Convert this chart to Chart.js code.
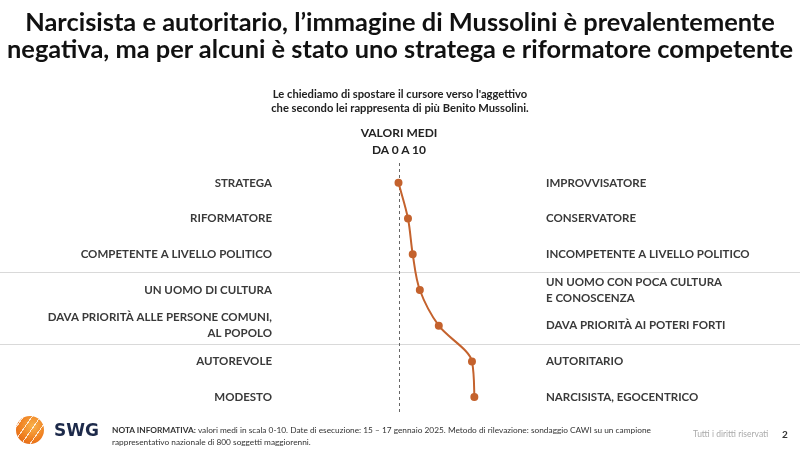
<!DOCTYPE html>
<html lang="it">
<head>
    <meta charset="UTF-8">
    <title>Immagine di Mussolini</title>
    <script src="https://cdn.jsdelivr.net/npm/chart.js@4"></script>
    <style>
        body {
            margin: 0;
            width: 800px;
            height: 452px;
            position: relative;
            background: #fff;
            font-family: Lato, Arial, sans-serif;
            color: #1a1a1a;
            overflow: hidden;
        }
        #wrap {
            position: absolute;
            left: 0; top: 0;
            width: 800px; height: 452px;
        }
        .title {
            position: absolute;
            left: 0; top: 8px; width: 800px;
            text-align: center;
            font-weight: 700;
            font-size: 25.4px;
            line-height: 27px;
            color: #111;
        }
        .question {
            position: absolute;
            left: 0; top: 87px; width: 800px;
            text-align: center;
            font-weight: 700;
            font-size: 11.2px;
            line-height: 14px;
            color: #222;
        }
        .valori {
            position: absolute;
            left: 299px; top: 124px; width: 200px;
            text-align: center;
            font-weight: 700;
            font-size: 12px;
            line-height: 17px;
            color: #222;
        }
        .logo {
            position: absolute;
            left: 16px; top: 416px;
            width: 28px; height: 28px;
            border-radius: 50%;
            background:
                repeating-linear-gradient(125deg, transparent 0 6px, rgba(255,255,255,0.8) 6px 7px),
                radial-gradient(circle at 60% 35%, #f8b14a, #ee7a1c 60%, #d9601a);
        }
        .swg {
            position: absolute;
            left: 54px; top: 420px;
            font-family: "DejaVu Sans", Arial, sans-serif;
            font-weight: 700;
            font-size: 17px;
            color: #1d2a4a;
        }
        .note {
            position: absolute;
            left: 112px; top: 424px;
            font-size: 8.3px;
            line-height: 12px;
            color: #333;
        }
        .rights {
            position: absolute;
            left: 693px; top: 429px;
            font-size: 8.5px;
            color: #aaa;
        }
        .page {
            position: absolute;
            left: 782px; top: 428px;
            font-size: 10px;
            font-weight: 700;
            color: #333;
        }
    </style>
</head>
<body>

<div id="wrap"><canvas id="chart" width="800" height="452"></canvas></div>

<div class="title">Narcisista e autoritario, l’immagine di Mussolini è prevalentemente<br>negativa, ma per alcuni è stato uno stratega e riformatore competente</div>
<div class="question">Le chiediamo di spostare il cursore verso l'aggettivo<br>che secondo lei rappresenta di più Benito Mussolini.</div>
<div class="valori">VALORI MEDI<br>DA 0 A 10</div>

<div class="logo"></div>
<div class="swg">SWG</div>
<div class="note"><b>NOTA INFORMATIVA:</b> valori medi in scala 0-10. Date di esecuzione: 15 – 17 gennaio 2025. Metodo di rilevazione: sondaggio CAWI su un campione<br>rappresentativo nazionale di 800 soggetti maggiorenni.</div>
<div class="rights">Tutti i diritti riservati</div>
<div class="page">2</div>

<script>
    // aggettivi a sinistra (0) e a destra (10)
    const leftLabels = [
        'STRATEGA',
        'RIFORMATORE',
        'COMPETENTE A LIVELLO POLITICO',
        'UN UOMO DI CULTURA',
        ['DAVA PRIORITÀ ALLE PERSONE COMUNI,', 'AL POPOLO'],
        'AUTOREVOLE',
        'MODESTO'
    ];
    const rightLabels = [
        'IMPROVVISATORE',
        'CONSERVATORE',
        'INCOMPETENTE A LIVELLO POLITICO',
        ['UN UOMO CON POCA CULTURA', 'E CONOSCENZA'],
        'DAVA PRIORITÀ AI POTERI FORTI',
        'AUTORITARIO',
        'NARCISISTA, EGOCENTRICO'
    ];
    // valori medi 0-10
    const mediValues = [5.0, 5.4, 5.6, 5.9, 6.7, 8.1, 8.2];
    const midValue = 5;
    // separatori tra i gruppi (dopo la 3a e la 5a riga)
    const separators = [2.5, 4.5];

    const lineColor = '#c4622d';
    const labelFont = { family: 'Lato', size: 11.5, weight: '700', lineHeight: 1.4 };

    const guides = {
        id: 'guides',
        beforeDatasetsDraw(chart) {
            const { ctx, chartArea, scales } = chart;
            ctx.save();
            // linee grigie orizzontali
            ctx.strokeStyle = '#d9d9d9';
            ctx.lineWidth = 1;
            separators.forEach(v => {
                const y = Math.round(scales.y.getPixelForValue(v)) + 0.5;
                ctx.beginPath();
                ctx.moveTo(0, y);
                ctx.lineTo(chart.width, y);
                ctx.stroke();
            });
            // linea tratteggiata al valore 5
            const x = Math.round(scales.x.getPixelForValue(midValue)) + 0.5;
            ctx.strokeStyle = '#666';
            ctx.setLineDash([3, 3]);
            ctx.beginPath();
            ctx.moveTo(x, chartArea.top - 2);
            ctx.lineTo(x, chartArea.bottom);
            ctx.stroke();
            ctx.restore();
        }
    };

    new Chart(document.getElementById('chart'), {
        type: 'line',
        data: {
            labels: leftLabels,
            datasets: [{
                data: mediValues,
                borderColor: lineColor,
                backgroundColor: lineColor,
                borderWidth: 2,
                pointRadius: 3,
                pointHoverRadius: 3,
                cubicInterpolationMode: 'monotone',
                clip: false
            }]
        },
        options: {
            indexAxis: 'y',
            responsive: false,
            animation: false,
            events: [],
            layout: { padding: { top: 165, bottom: 35, left: 0, right: 0 } },
            plugins: { legend: { display: false }, tooltip: { enabled: false } },
            scales: {
                x: {
                    type: 'linear',
                    min: 0,
                    max: 10,
                    display: false
                },
                y: {
                    type: 'category',
                    position: 'left',
                    offset: true,
                    grid: { display: false, drawTicks: false },
                    border: { display: false },
                    ticks: { color: '#3a3a3a', font: labelFont, padding: 8 },
                    afterFit(scale) { scale.width = 280; }
                },
                y2: {
                    type: 'category',
                    position: 'right',
                    labels: rightLabels,
                    offset: true,
                    grid: { display: false, drawTicks: false },
                    border: { display: false },
                    ticks: { color: '#3a3a3a', font: labelFont, padding: 29 },
                    afterFit(scale) { scale.width = 283; }
                }
            }
        },
        plugins: [guides]
    });
</script>

</body>
</html>
